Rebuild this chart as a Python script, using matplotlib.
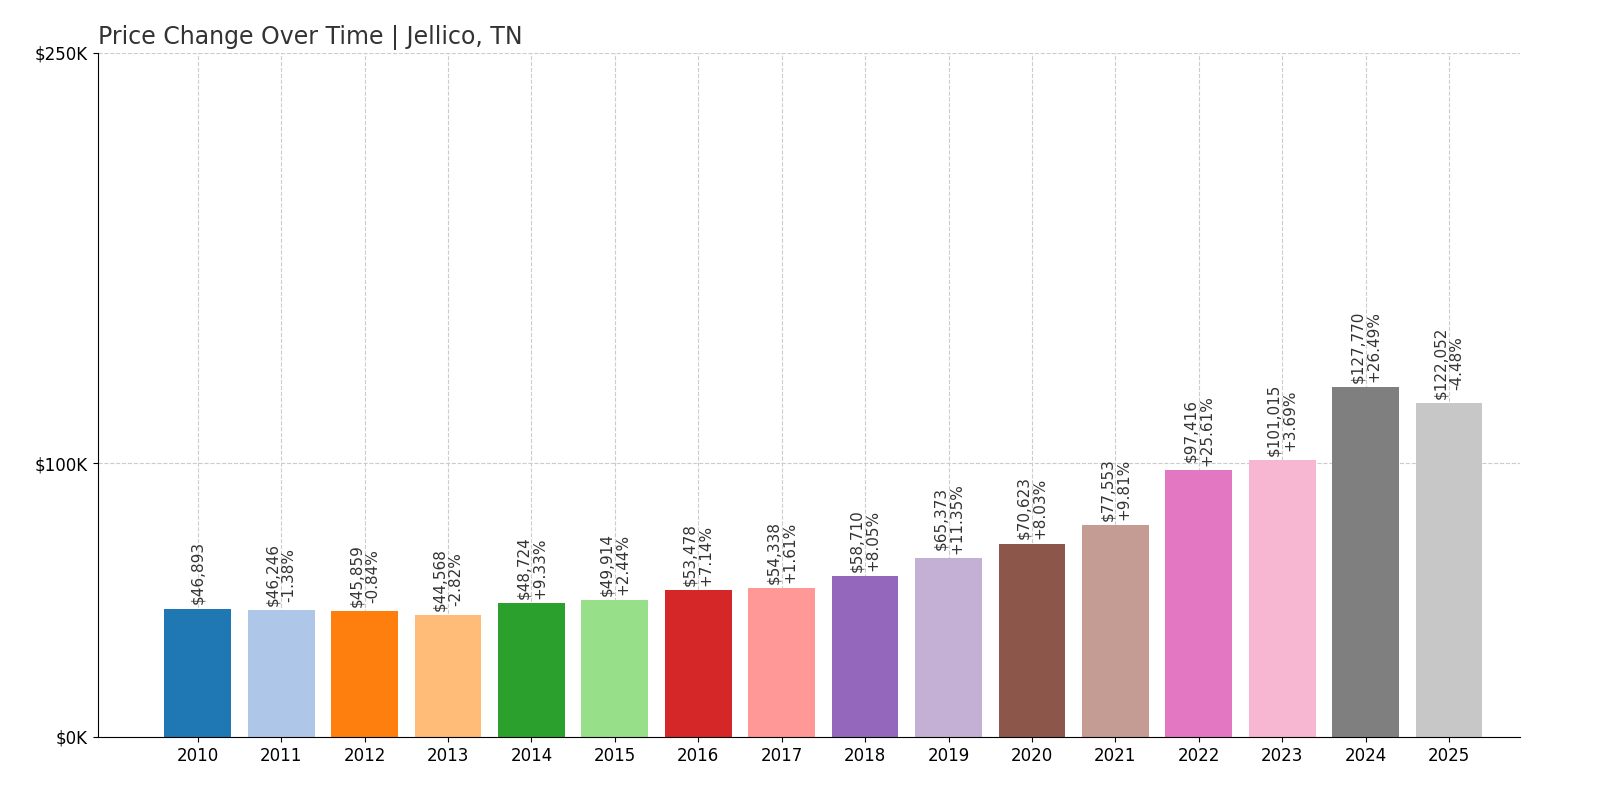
import matplotlib
matplotlib.use("Agg")
import matplotlib.pyplot as plt
from matplotlib.ticker import FuncFormatter

years = [str(y) for y in range(2010, 2026)]
values = [46893, 46246, 45859, 44568, 48724, 49914, 53478, 54338, 58710, 65373,
          70623, 77553, 97416, 101015, 127770, 122052]
changes = [None, "-1.38%", "-0.84%", "-2.82%", "+9.33%", "+2.44%", "+7.14%", "+1.61%",
           "+8.05%", "+11.35%", "+8.03%", "+9.81%", "+25.61%", "+3.69%", "+26.49%", "-4.48%"]

colors = plt.get_cmap("tab20").colors

fig = plt.figure(figsize=(16, 8), dpi=100)
ax = fig.add_axes([0.061, 0.079, 0.889, 0.855])
x = range(len(years))
ax.bar(x, values, color=[colors[i % 20] for i in x], width=0.8, zorder=2)
for i, v in enumerate(values):
    t = f"${v:,}" if changes[i] is None else f"${v:,}\n{changes[i]}"
    ax.text(i, v + 1500, t, rotation=90, ha="center", va="bottom", fontsize=11,
            color="#333333", linespacing=1.1)
ax.set_xticks(list(x))
ax.set_xticklabels(years, fontsize=12)
ax.set_ylim(0, 250000)
ax.set_xlim(-1.2, 15.85)
ax.set_yticks([0, 100000, 250000])
ax.yaxis.set_major_formatter(FuncFormatter(lambda v, p: f"${int(v/1000)}K"))
ax.tick_params(axis="y", labelsize=12)
ax.grid(True, linestyle="--", color="#cccccc", linewidth=0.8, zorder=0)
ax.set_axisbelow(True)
for s in ["top", "right"]:
    ax.spines[s].set_visible(False)
ax.set_title("Price Change Over Time | Jellico, TN", loc="left", fontsize=17, color="#333333", pad=6)
fig.savefig("out.png", dpi=100)
